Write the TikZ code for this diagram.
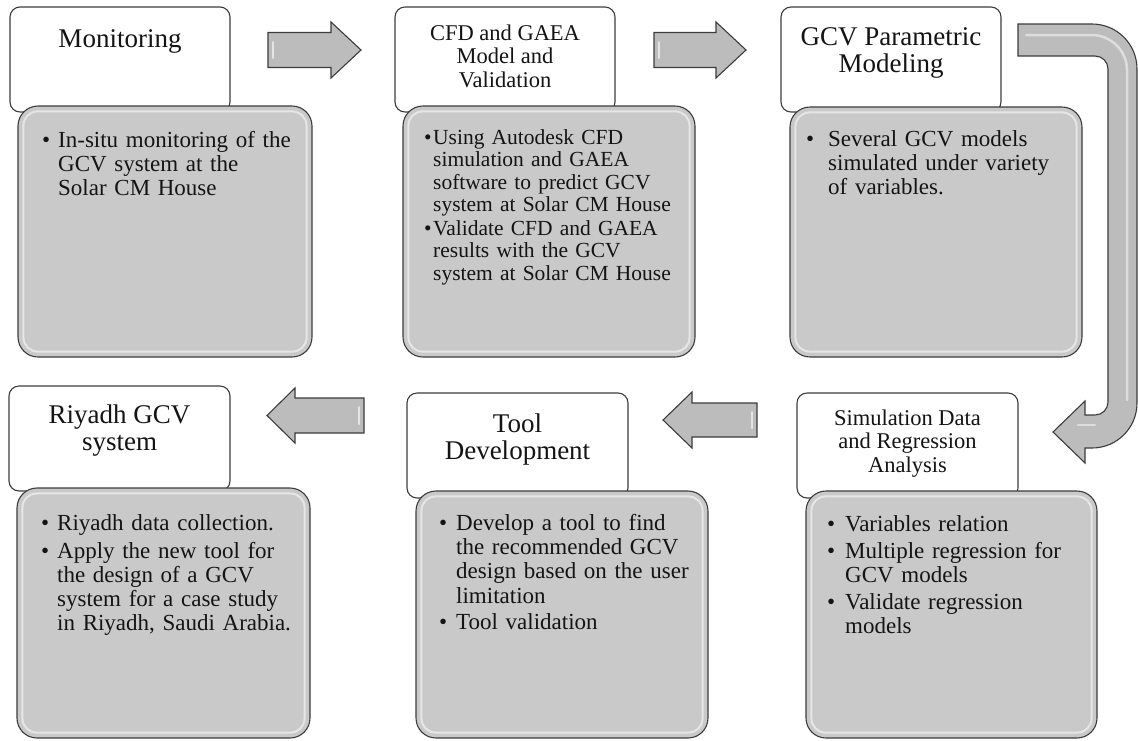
\documentclass[tikz,border=0pt]{standalone}
\usepackage{fontspec}
\setmainfont{Liberation Serif}
\usetikzlibrary{calc}
\definecolor{bodyfill}{RGB}{201,201,201}
\definecolor{edgec}{RGB}{60,60,60}
\definecolor{arrowfill}{RGB}{188,188,188}
\definecolor{txt}{RGB}{20,20,20}
\newcommand{\bitem}[2]{\hangindent=#1\hangafter=1\noindent\makebox[#1][l]{\textbullet}#2\par}
\tikzset{
  titlebox/.style={draw=edgec, line width=1.1pt, fill=white, rounded corners=10pt, inner sep=0pt},
  bodybox/.style={draw=edgec, line width=1.1pt, fill=bodyfill, rounded corners=20pt, inner sep=0pt},
  hilite/.style={draw=white, draw opacity=0.55, line width=2pt, rounded corners=14pt},
  titletext/.style={inner sep=0pt, anchor=north, align=center, text=txt},
  bigtitle/.style={titletext, font=\fontsize{27}{27.5}\selectfont},
  smalltitle/.style={titletext, font=\fontsize{22.5}{23.5}\selectfont},
  bodytext/.style={inner sep=0pt, anchor=north west, align=left, text width=280pt, text=txt, font=\fontsize{23}{24.3}\selectfont},
  blockarrow/.style={draw=edgec, line width=1.1pt, fill=arrowfill, line join=miter},
  arrowhl/.style={draw=white, draw opacity=0.6, line width=2pt, line cap=round},
}
\begin{document}
\begin{tikzpicture}[x=1pt,y=-1pt]
\useasboundingbox (0,0) rectangle (1138,740);

% ---------- title boxes ----------
\node[titlebox, minimum width=220pt, minimum height=105pt] (t1) at (120,59.5) {};
\node[titlebox, minimum width=220pt, minimum height=105pt] (t2) at (505,59.5) {};
\node[titlebox, minimum width=220pt, minimum height=105pt] (t3) at (891,59.5) {};
\node[titlebox, minimum width=221pt, minimum height=105pt] (t4) at (119.5,438.5) {};
\node[titlebox, minimum width=221pt, minimum height=105pt] (t5) at (517.5,445.5) {};
\node[titlebox, minimum width=221pt, minimum height=105pt] (t6) at (907.5,445.5) {};

% ---------- body boxes ----------
\node[bodybox, minimum width=294pt, minimum height=251pt] (b1) at (165,231.5) {};
\node[bodybox, minimum width=292pt, minimum height=251pt] (b2) at (549,231.5) {};
\node[bodybox, minimum width=292pt, minimum height=250pt] (b3) at (936,232) {};
\node[bodybox, minimum width=293pt, minimum height=250pt] (b4) at (163.5,613) {};
\node[bodybox, minimum width=292pt, minimum height=247pt] (b5) at (562,614.5) {};
\node[bodybox, minimum width=291pt, minimum height=247pt] (b6) at (951.5,614.5) {};
\foreach \b in {b1,b2,b3,b4,b5,b6}{
  \draw[hilite] ($(\b.south west)+(6,-6)$) rectangle ($(\b.north east)+(-6,6)$);
}

% ---------- title texts ----------
\node[bigtitle] (l1) at (120,20) {\rule{0pt}{27pt}Monitoring};
\node[smalltitle] (l2) at (505,17.5) {\rule{0pt}{22.5pt}CFD and GAEA\\Model and\\Validation};
\node[bigtitle] (l3) at (891,18) {\rule{0pt}{27pt}GCV Parametric\\Modeling};
\node[bigtitle] (l4) at (119.5,396) {\rule{0pt}{27pt}Riyadh GCV\\system};
\node[bigtitle] (l5) at (517.5,405) {\rule{0pt}{27pt}Tool\\Development};
\node[smalltitle] (l6) at (907.5,402.5) {\rule{0pt}{22.5pt}Simulation Data\\and Regression\\Analysis};

% ---------- body texts ----------
\node[bodytext] (x1) at (42,124) {%
  \bitem{16pt}{\rule{0pt}{23pt}In-situ monitoring of the\newline GCV system at the\newline Solar CM House}};
\node[bodytext, font=\fontsize{21.5}{22.4}\selectfont] (x2) at (424,122.5) {%
  \bitem{9pt}{\rule{0pt}{21.5pt}Using Autodesk CFD\newline simulation and GAEA\newline software to predict GCV\newline system at Solar CM House}\vspace{1.5pt}
  \bitem{9pt}{Validate CFD and GAEA\newline results with the GCV\newline system at Solar CM House}};
\node[bodytext] (x3) at (806,123) {%
  \bitem{22pt}{\rule{0pt}{23pt}Several GCV models\newline simulated under variety\newline of variables.}};
\node[bodytext] (x4) at (41,507) {%
  \bitem{16pt}{\rule{0pt}{23pt}Riyadh data collection.}\vspace{3.5pt}
  \bitem{16pt}{Apply the new tool for\newline the design of a GCV\newline system for a case study\newline in Riyadh, Saudi Arabia.}};
\node[bodytext] (x5) at (439,507) {%
  \bitem{17pt}{\rule{0pt}{23pt}Develop a tool to find\newline the recommended GCV\newline design based on the user\newline limitation}\vspace{2.5pt}
  \bitem{17pt}{Tool validation}};
\node[bodytext] (x6) at (827,508) {%
  \bitem{18pt}{\rule{0pt}{23pt}Variables relation}\vspace{2.5pt}
  \bitem{18pt}{Multiple regression for\newline GCV models}\vspace{2.5pt}
  \bitem{18pt}{Validate regression\newline models}};

% ---------- block arrows ----------
\draw[blockarrow] (268,32.5) -- (331,32.5) -- (331,22) -- (361,50) -- (331,78) -- (331,67.5) -- (268,67.5) -- cycle;
\draw[arrowhl] (273,42) -- (273,58);
\draw[blockarrow] (654,32.5) -- (716,32.5) -- (716,22) -- (746,50) -- (716,78) -- (716,67.5) -- (654,67.5) -- cycle;
\draw[arrowhl] (659,42) -- (659,58);
\draw[blockarrow] (364,398) -- (295,398) -- (295,388) -- (267,415.5) -- (295,443) -- (295,433) -- (364,433) -- cycle;
\draw[arrowhl] (359,407) -- (359,424);
\draw[blockarrow] (757,403) -- (692,403) -- (692,392) -- (663,420) -- (692,448) -- (692,437) -- (757,437) -- cycle;
\draw[arrowhl] (752,412) -- (752,428);

% ---------- curved arrow ----------
\draw[blockarrow] (1018,24) -- (1092,24) .. controls (1116.9,24) and (1137,44.1) .. (1137,69)
  -- (1137,403) .. controls (1137,427.9) and (1116.9,448) .. (1092,448)
  -- (1085,448) -- (1085,463) -- (1053,432) -- (1085,401) -- (1085,415)
  -- (1095,415) .. controls (1102.2,415) and (1108,409.2) .. (1108,402)
  -- (1108,69) .. controls (1108,61.8) and (1102.2,56) .. (1095,56)
  -- (1018,56) -- cycle;
\draw[arrowhl, draw opacity=0.5, line width=2.5pt] (1026,35) -- (1092,35) .. controls (1110,35) and (1127,50) .. (1127,70) -- (1127,400);
\draw[arrowhl, draw opacity=0.5, line width=2.5pt] (1078,425) -- (1095,425);
\end{tikzpicture}
\end{document}
